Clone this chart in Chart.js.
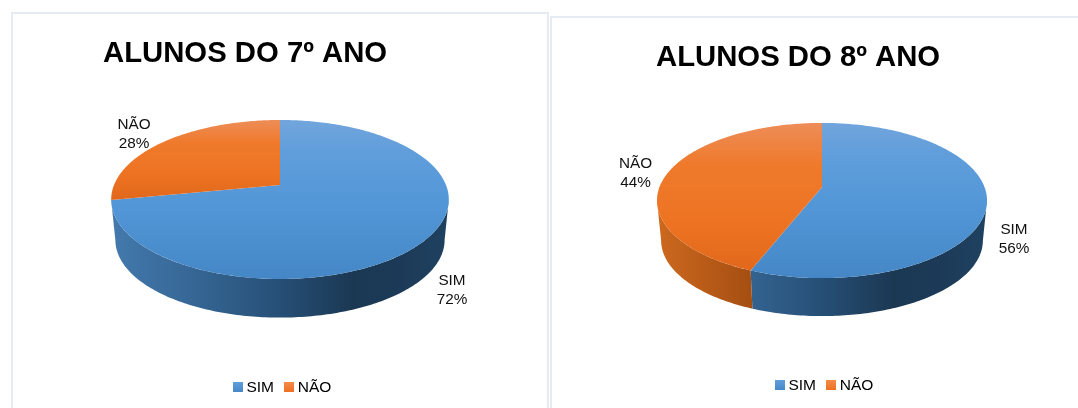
<!DOCTYPE html>
<html>
<head>
<meta charset="utf-8">
<title>Alunos</title>
<script src="https://cdn.jsdelivr.net/npm/chart.js@4"></script>
<style>
  html, body { margin: 0; padding: 0; background: #fff; overflow: hidden; }
  body { width: 1078px; height: 408px; position: relative; }
  .panel { position: absolute; box-sizing: border-box; border: 2px solid #e6ebf2; background: #fff; }
  #panel7 { left: 11px; top: 12px; width: 538px; height: 420px; }
  #panel8 { left: 550px; top: 16px; width: 560px; height: 420px; }
  canvas { position: absolute; top: 0; }
</style>
</head>
<body>
<div class="panel" id="panel7"></div>
<div class="panel" id="panel8"></div>
<canvas id="chart7" width="490" height="408" style="left:0"></canvas>
<canvas id="chart8" width="493" height="408" style="left:551px"></canvas>
<script>
const categories = ['SIM', 'NÃO'];
const values7 = [72, 28];
const values8 = [56, 44];
const title7 = 'ALUNOS DO 7º ANO';
const title8 = 'ALUNOS DO 8º ANO';

const faceColors = ['#5296d7', '#ef7626'];
const faceStops = [
    [[0, '#72a5dc'], [0.2, '#609edb'], [0.55, '#5296d7'], [1, '#4587c6']],
    [[0, '#ed8d58'], [0.28, '#ef7a2c'], [0.7, '#ed7322'], [1, '#e1671b']]
];
const wallStops = [
    [[0, '#4379ad'], [0.29, '#33628f'], [0.5, '#264f76'], [0.72, '#1b3853'], [0.85, '#1c3a57'], [1, '#1f4160']],
    [[0, '#cc681e'], [0.29, '#a44e12'], [1, '#7c3a0c']]
];

function swatch(top, bottom) {
    const c = document.createElement('canvas');
    c.width = 10;
    c.height = 10;
    const g = c.getContext('2d');
    const grad = g.createLinearGradient(0, 0, 0, 10);
    grad.addColorStop(0, top);
    grad.addColorStop(1, bottom);
    g.fillStyle = grad;
    g.fillRect(0, 0, 10, 10);
    return c;
}

// Tilted pie: takes the angles and radius of Chart.js arcs and projects them in perspective
const tiltedPie = {
    id: 'tiltedPie',
    beforeDatasetDraw(chart, args, opts) {
        const ctx = chart.ctx;
        const arcs = chart.getDatasetMeta(args.index).data;
        const cx = arcs[0].x + opts.shiftX;
        const project = (a, scale = 1, drop = 0) => {
            const w = 1 - opts.persp * Math.sin(a);
            return {
                x: cx + scale * arcs[0].outerRadius * Math.cos(a) / w,
                y: opts.apexY + scale * arcs[0].outerRadius * opts.tilt * Math.sin(a) / w + drop
            };
        };
        const sample = (from, to) => {
            const list = [];
            const n = Math.max(2, Math.ceil((to - from) * 60));
            for (let i = 0; i <= n; i++) list.push(from + (to - from) * i / n);
            return list;
        };
        const fillStops = (grad, stops) => {
            stops.forEach(s => grad.addColorStop(s[0], s[1]));
            return grad;
        };

        // side wall, only the part of the rim that faces the viewer
        const edge = Math.asin(opts.persp);
        arcs.forEach((arc, i) => {
            [0, 2 * Math.PI].forEach(turn => {
                const from = Math.max(arc.startAngle + turn, edge);
                const to = Math.min(arc.endAngle + turn, Math.PI - edge);
                if (to <= from) return;
                const angles = sample(from, to);
                ctx.beginPath();
                angles.forEach((a, k) => {
                    const p = project(a);
                    k ? ctx.lineTo(p.x, p.y) : ctx.moveTo(p.x, p.y);
                });
                angles.reverse().forEach(a => {
                    const p = project(a, opts.wallScale, opts.depth);
                    ctx.lineTo(p.x, p.y);
                });
                ctx.closePath();
                const r = arc.outerRadius;
                ctx.fillStyle = fillStops(ctx.createLinearGradient(cx - r, 0, cx + r, 0), wallStops[i]);
                ctx.fill();
            });
        });

        // top face
        arcs.forEach((arc, i) => {
            const pts = sample(arc.startAngle, arc.endAngle).map(a => project(a));
            const ys = pts.map(p => p.y).concat(opts.apexY);
            ctx.beginPath();
            ctx.moveTo(cx, opts.apexY);
            pts.forEach(p => ctx.lineTo(p.x, p.y));
            ctx.closePath();
            ctx.fillStyle = fillStops(ctx.createLinearGradient(0, Math.min(...ys), 0, Math.max(...ys)), faceStops[i]);
            ctx.fill();
        });
        return false;
    },
    afterDatasetsDraw(chart, args, opts) {
        const ctx = chart.ctx;
        const values = chart.data.datasets[0].data;
        ctx.save();
        ctx.font = '15.3px "Liberation Sans"';
        ctx.fillStyle = '#111';
        ctx.textAlign = 'center';
        ctx.textBaseline = 'middle';
        chart.data.labels.forEach((name, i) => {
            const pos = opts.labelPos[i];
            ctx.fillText(name, pos[0], pos[1]);
            ctx.fillText(values[i] + '%', pos[0], pos[1] + 19);
        });
        ctx.restore();
    }
};

function makeChart(id, text, values, cfg) {
    return new Chart(document.getElementById(id), {
        type: 'pie',
        data: {
            labels: categories,
            datasets: [{ data: values, backgroundColor: faceColors, borderWidth: 0, radius: cfg.radius }]
        },
        plugins: [tiltedPie],
        options: {
            responsive: false,
            animation: false,
            layout: { padding: { left: cfg.padLeft, right: cfg.padRight, bottom: cfg.padBottom } },
            plugins: {
                title: {
                    display: true,
                    text: text,
                    align: 'start',
                    color: '#000',
                    font: { family: '"Liberation Sans"', size: 29.3, weight: 'bold' },
                    padding: { top: cfg.titleTop, bottom: 8 }
                },
                legend: {
                    position: 'bottom',
                    fullSize: false,
                    labels: {
                        color: '#111',
                        font: { family: '"Liberation Sans"', size: 15.5 },
                        usePointStyle: true,
                        boxWidth: 1,
                        padding: 15,
                        generateLabels: chart => categories.map((name, i) => ({
                            text: name,
                            fillStyle: faceColors[i],
                            strokeStyle: faceColors[i],
                            lineWidth: 0,
                            pointStyle: i === 0 ? swatch('#609edb', '#4688c8') : swatch('#f58c48', '#ee7020'),
                            index: i
                        }))
                    }
                },
                tooltip: { enabled: false },
                tiltedPie: cfg.pie
            }
        }
    });
}

makeChart('chart7', title7, values7, {
    radius: 166, padLeft: 103, padRight: 24, padBottom: 3, titleTop: 36,
    pie: { apexY: 185, shiftX: -4.5, tilt: 0.463, persp: 0.182, wallScale: 0.975, depth: 41, labelPos: [[452, 281], [134, 125]] }
});
makeChart('chart8', title8, values8, {
    radius: 162.5, padLeft: 105, padRight: 47, padBottom: 5, titleTop: 40,
    pie: { apexY: 187, shiftX: -4.5, tilt: 0.463, persp: 0.174, wallScale: 0.975, depth: 40.3, labelPos: [[463, 230], [84.5, 164]] }
});
</script>
</body>
</html>
